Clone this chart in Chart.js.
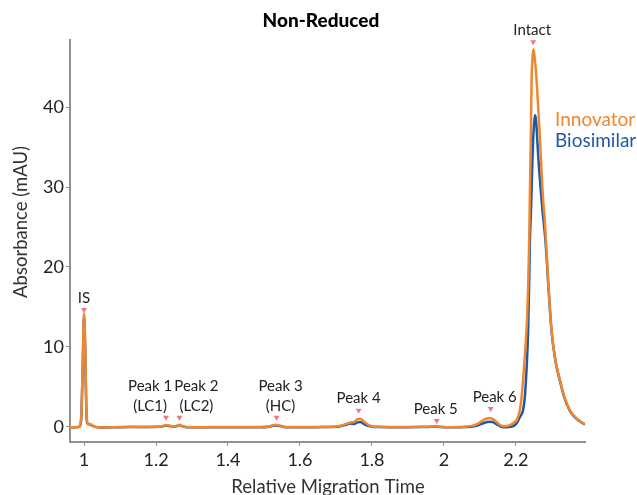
<!DOCTYPE html>
<html>
<head>
<meta charset="utf-8">
<title>Non-Reduced</title>
<script src="https://cdn.jsdelivr.net/npm/chart.js@4.4.1/dist/chart.umd.min.js"></script>
<style>
  body { margin: 0; background: #fff; }
  #wrap { width: 637px; height: 495px; }
</style>
</head>
<body>
<div id="wrap"><canvas id="chart" width="637" height="495"></canvas></div>
<script>
// relative migration time and absorbance (mAU)
const migrationTime = [
  0.961, 0.975, 0.985, 0.990, 0.993, 0.9965, 1.000, 1.0035, 1.006, 1.008,
  1.011, 1.016, 1.021, 1.027, 1.04, 1.06, 1.08, 1.10, 1.13, 1.16,
  1.19, 1.21, 1.222, 1.23, 1.24, 1.25, 1.258, 1.265, 1.272, 1.285,
  1.31, 1.35, 1.40, 1.45, 1.49, 1.515, 1.53, 1.545, 1.56, 1.60,
  1.65, 1.69, 1.71, 1.725, 1.74, 1.75, 1.76, 1.768, 1.778, 1.79,
  1.80, 1.82, 1.86, 1.90, 1.94, 1.965, 1.975, 1.99, 2.01, 2.04,
  2.06, 2.08, 2.095, 2.11, 2.125, 2.135, 2.145, 2.155, 2.165, 2.175,
  2.185, 2.195, 2.203, 2.211, 2.216, 2.220, 2.225, 2.228, 2.231, 2.234,
  2.237, 2.239, 2.2415, 2.2436, 2.246, 2.248, 2.2505, 2.253, 2.2555, 2.258,
  2.2625, 2.267, 2.274, 2.282, 2.29, 2.299, 2.31, 2.322, 2.335, 2.35,
  2.365, 2.38, 2.392
];
const innovator = [
  -0.05, -0.05, -0.02, 0.3, 2.0, 8.0, 14.2, 9.5, 3.0, 0.8,
  0.4, 0.35, 0.25, 0.05, -0.05, -0.08, -0.05, -0.03, 0.0, -0.02,
  0.0, 0.02, 0.15, 0.22, 0.12, 0.05, 0.15, 0.25, 0.12, -0.03,
  -0.05, -0.03, -0.02, -0.03, -0.02, 0.05, 0.25, 0.15, -0.02, -0.03,
  -0.02, 0.0, 0.1, 0.3, 0.55, 0.6, 0.95, 1.0, 0.65, 0.25,
  0.08, 0.0, -0.03, -0.02, 0.0, 0.03, 0.1, 0.0, -0.05, -0.03,
  0.02, 0.15, 0.4, 0.85, 1.1, 1.0, 0.65, 0.25, 0.08, 0.1,
  0.25, 0.55, 0.9, 2.1, 3.8, 5.9, 9.0, 11.0, 13.5, 17.5,
  23.4, 29.6, 36.5, 43.5, 46.0, 47.2, 46.8, 45.8, 44.6, 43.0,
  39.5, 35.9, 29.6, 24.6, 18.0, 12.1, 8.3, 5.9, 3.7, 2.1,
  1.2, 0.65, 0.35
];
const biosimilar = [
  -0.05, -0.05, -0.03, 0.2, 1.8, 7.8, 14.0, 9.0, 2.8, 0.7,
  0.35, 0.3, 0.2, 0.05, -0.05, -0.08, -0.07, -0.04, -0.02, -0.03,
  -0.02, 0.0, 0.1, 0.15, 0.08, 0.02, 0.1, 0.2, 0.08, -0.05,
  -0.06, -0.05, -0.04, -0.06, -0.05, 0.02, 0.18, 0.1, -0.04, -0.05,
  -0.04, -0.02, 0.05, 0.22, 0.4, 0.35, 0.55, 0.6, 0.35, 0.12,
  0.02, -0.03, -0.05, -0.05, -0.03, 0.0, 0.05, -0.03, -0.06, -0.06,
  -0.02, 0.05, 0.2, 0.45, 0.62, 0.6, 0.35, 0.1, -0.05, -0.05,
  0.0, 0.15, 0.5, 1.2, 1.6, 2.1, 3.8, 5.9, 8.5, 12.1,
  18.5, 23.4, 26.5, 29.6, 33.5, 36.0, 38.0, 39.0, 38.5, 37.0,
  33.5, 30.8, 27.0, 23.4, 17.8, 12.0, 8.2, 5.8, 3.6, 2.0,
  1.15, 0.6, 0.3
];

const xTicks = [1, 1.2, 1.4, 1.6, 1.8, 2, 2.2];
const yTicks = [0, 10, 20, 30, 40];

// peak annotations
const peakNames = [['IS'], ['Peak 1', '(LC1)'], ['Peak 2', '(LC2)'], ['Peak 3', '(HC)'],
  ['Peak 4'], ['Peak 5'], ['Peak 6'], ['Intact']];
const peakTimes = [1.0, 1.228, 1.265, 1.535, 1.763, 1.98, 2.13, 2.248];

// where each marker sits (mAU) and how far its text is shifted sideways (px)
const markerLevel = [14.5, 1.0, 1.0, 1.0, 1.9, 0.6, 2.1, 48.0];
const labelShift = [0, -16, 17, 4, 0, -1, 4, -1];

const ORANGE = '#F0872F';
const BLUE = '#2058A6';
const AXIS = '#8f8f8f';
const FONT = 'Lato, "Noto Sans", sans-serif';

const toPoints = (ys) => migrationTime.map((t, i) => ({ x: t, y: ys[i] }));

// dessine titre, titres d'axes, légende et annotations des pics
const annotations = {
  id: 'annotations',
  afterDatasetsDraw(chart) {
    const { ctx, scales } = chart;
    const xs = scales.x;
    const ys = scales.y;
    ctx.save();

    ctx.fillStyle = '#000';
    ctx.font = `900 19px ${FONT}`;
    ctx.textAlign = 'center';
    ctx.textBaseline = 'middle';
    ctx.fillText('Non-Reduced', 321, 21);

    ctx.fillStyle = '#333';
    ctx.font = `18.5px ${FONT}`;
    ctx.fillText('Relative Migration Time', 328, 487);
    ctx.save();
    ctx.translate(21, 222);
    ctx.rotate(-Math.PI / 2);
    ctx.fillText('Absorbance (mAU)', 0, 0);
    ctx.restore();

    ctx.textAlign = 'left';
    ctx.font = `19px ${FONT}`;
    ctx.fillStyle = ORANGE;
    ctx.fillText('Innovator', 555, 120);
    ctx.fillStyle = BLUE;
    ctx.fillText('Biosimilar', 555, 141);

    peakTimes.forEach((t, i) => {
      const px = xs.getPixelForValue(t);
      const py = ys.getPixelForValue(markerLevel[i]);
      ctx.fillStyle = '#F2777D';
      ctx.beginPath();
      ctx.moveTo(px - 3, py - 3);
      ctx.lineTo(px + 3, py - 3);
      ctx.lineTo(px, py + 2);
      ctx.closePath();
      ctx.fill();

      ctx.fillStyle = '#222';
      ctx.font = `15px ${FONT}`;
      ctx.textAlign = 'center';
      const lines = peakNames[i];
      lines.forEach((line, j) => {
        const ly = py - 13 - (lines.length - 1 - j) * 19.5;
        ctx.fillText(line, px + labelShift[i], ly);
      });
    });
    ctx.restore();
  },
};

const renderChart = () => {
  const canvas = document.getElementById('chart');
  new Chart(canvas, {
    type: 'line',
    data: {
      datasets: [
        {
          label: 'Innovator',
          data: toPoints(innovator),
          borderColor: ORANGE,
          borderWidth: 2.5,
          pointRadius: 0,
          cubicInterpolationMode: 'monotone',
        },
        {
          label: 'Biosimilar',
          data: toPoints(biosimilar),
          borderColor: BLUE,
          borderWidth: 2.5,
          pointRadius: 0,
          cubicInterpolationMode: 'monotone',
        },
      ],
    },
    options: {
      responsive: false,
      animation: false,
      layout: { padding: { top: 40, right: 52, left: 0, bottom: 0 } },
      plugins: {
        legend: { display: false },
        tooltip: { enabled: false },
      },
      scales: {
        x: {
          type: 'linear',
          min: 0.961,
          max: 2.392,
          afterBuildTicks: (s) => { s.ticks = xTicks.map((v) => ({ value: v })); },
          afterFit: (s) => { s.height = 53; },
          border: { display: true, color: AXIS, width: 2 },
          grid: { drawOnChartArea: false, drawTicks: true, tickLength: 4, color: AXIS },
          ticks: {
            padding: 3,
            color: '#222',
            font: { family: FONT, size: 18 },
            callback: (v) => String(Math.round(v * 10) / 10),
          },
        },
        y: {
          min: -1.9,
          max: 48.4,
          afterBuildTicks: (s) => { s.ticks = yTicks.map((v) => ({ value: v })); },
          afterFit: (s) => { s.width = 70; },
          border: { display: true, color: AXIS, width: 2 },
          grid: { drawOnChartArea: false, drawTicks: true, tickLength: 4, color: AXIS },
          ticks: {
            padding: 2,
            color: '#222',
            font: { family: FONT, size: 18 },
          },
        },
      },
    },
    plugins: [annotations],
  });
};

renderChart();
</script>
</body>
</html>
